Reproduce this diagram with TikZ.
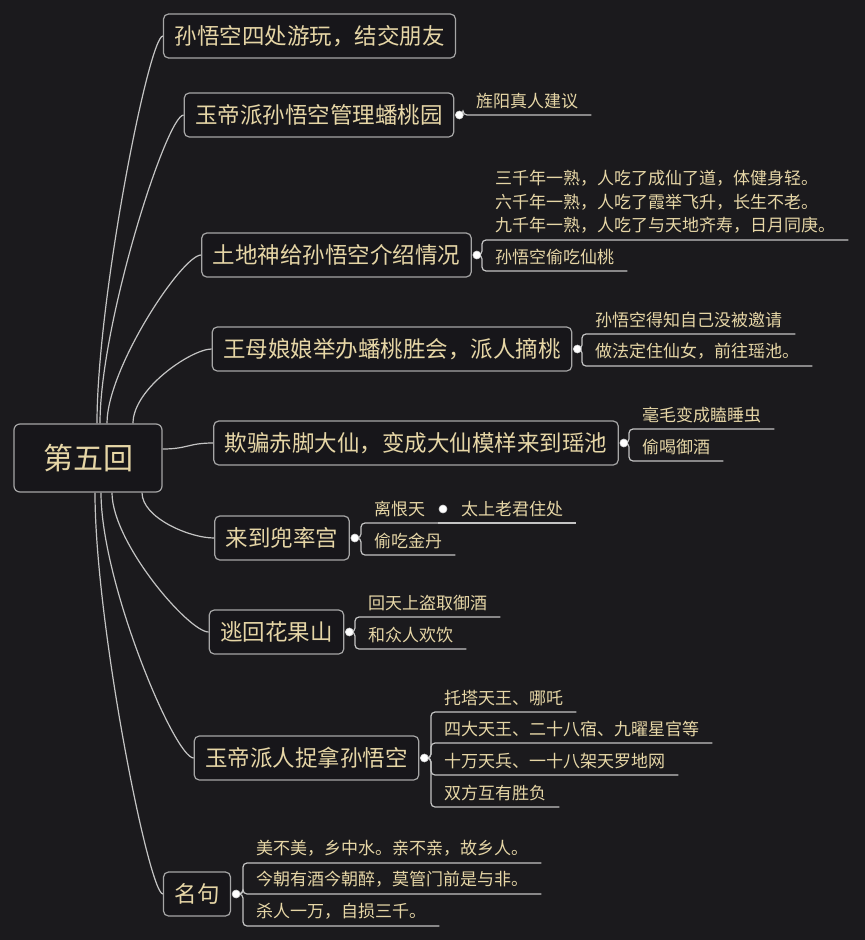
\documentclass[tikz,border=0pt]{standalone}
\usepackage{fontspec}
\newfontfamily\cjk{Noto Sans CJK SC}
\usetikzlibrary{calc,backgrounds}
\definecolor{bgdark}{HTML}{1B1A1D}
\definecolor{boxfill}{HTML}{17161A}
\definecolor{boxline}{HTML}{A6A6A6}
\definecolor{linkgray}{HTML}{C4C4C4}
\definecolor{cream}{HTML}{E6D6A6}

\begin{document}
\begin{tikzpicture}[x=1pt, y=1pt,
    root/.style={draw=boxline, fill=boxfill, line width=1.2pt, rounded corners=6pt, minimum width=148pt, minimum height=68pt, text=cream, font=\cjk\fontsize{30}{36}\selectfont},
    topic/.style={draw=boxline, fill=boxfill, line width=1.2pt, rounded corners=5pt, minimum height=44pt, inner xsep=11pt, text=cream, font=\cjk\fontsize{22.5}{27}\selectfont},
    sub/.style={anchor=south west, inner xsep=13pt, inner ysep=6pt, text=cream, align=left, font=\cjk\fontsize{17}{23.5}\selectfont},
    link/.style={draw=linkgray, line width=1.2pt},
    uline/.style={draw=linkgray, line width=1.2pt, rounded corners=4pt},
    knob/.style={circle, fill=white, draw=linkgray!70, line width=0.6pt, inner sep=0pt, minimum size=8pt}
]
\begin{scope}[on background layer]
\fill[bgdark] (0,0) rectangle (865,-940);
\end{scope}
\useasboundingbox (0,0) rectangle (865,-940);

% centre and main topics
\node[root] (root) at (88,-458) {第五回};
\node[topic] (b1) at (309.5,-36) {孙悟空四处游玩，结交朋友};
\node[topic] (b2) at (319,-115) {玉帝派孙悟空管理蟠桃园};
\node[topic] (b3) at (336.5,-255) {土地神给孙悟空介绍情况};
\node[topic] (b4) at (392,-349) {王母娘娘举办蟠桃胜会，派人摘桃};
\node[topic] (b5) at (416,-443) {欺骗赤脚大仙，变成大仙模样来到瑶池};
\node[topic] (b6) at (282,-538) {来到兜率宫};
\node[topic] (b7) at (276.5,-632) {逃回花果山};
\node[topic] (b8) at (306.5,-758) {玉帝派人捉拿孙悟空};
\node[topic] (b9) at (197,-894) {名句};

% knobs
\foreach \b in {2,...,9}
    \node[knob] (d\b) at ($(b\b.east)+(5,0)$) {};

% sub topics
\node[sub] (c21) at (463,-115) {旌阳真人建议};
\node[sub] (c31) at (482,-240) {三千年一熟，人吃了成仙了道，体健身轻。\\六千年一熟，人吃了霞举飞升，长生不老。\\九千年一熟，人吃了与天地齐寿，日月同庚。};
\node[sub] (c32) at (482,-271) {孙悟空偷吃仙桃};
\node[sub] (c41) at (582,-334) {孙悟空得知自己没被邀请};
\node[sub] (c42) at (582,-366) {做法定住仙女，前往瑶池。};
\node[sub] (c51) at (629,-429) {毫毛变成瞌睡虫};
\node[sub] (c52) at (629,-461) {偷喝御酒};
\node[sub] (c61) at (361,-523) {离恨天};
\node[knob] (m61) at (443,-509) {};
\node[sub] (c62) at (448,-523) {太上老君住处};
\node[sub] (c63) at (361,-555) {偷吃金丹};
\node[sub] (c71) at (355,-617) {回天上盗取御酒};
\node[sub] (c72) at (355,-649) {和众人欢饮};
\node[sub] (c81) at (431,-712) {托塔天王、哪吒};
\node[sub] (c82) at (431,-743) {四大天王、二十八宿、九曜星官等};
\node[sub] (c83) at (431,-775) {十万天兵、一十八架天罗地网};
\node[sub] (c84) at (431,-807) {双方互有胜负};
\node[sub] (c91) at (243,-863) {美不美，乡中水。亲不亲，故乡人。};
\node[sub] (c92) at (243,-894) {今朝有酒今朝醉，莫管门前是与非。};
\node[sub] (c93) at (243,-926) {杀人一万，自损三千。};

\begin{scope}[on background layer]
% curves from the centre
\draw[link] ([xshift=9pt]root.north) .. controls +(0,124) and +(-14,0) .. (b1.west);
\draw[link] ([xshift=12pt]root.north) .. controls +(0,100) and +(-17,0) .. (b2.west);
\draw[link] ([xshift=19pt]root.north) .. controls +(0,55) and +(-19,0) .. (b3.west);
\draw[link] ([xshift=45pt]root.north) .. controls +(0,35) and +(-20,0) .. (b4.west);
\draw[link] ([yshift=9pt]root.east) .. controls +(25,0) and +(-25,0) .. (b5.west);
\draw[link] ([xshift=54pt]root.south) .. controls +(0,-25) and +(-25,0) .. (b6.west);
\draw[link] ([xshift=24pt]root.south) .. controls +(0,-50) and +(-20,0) .. (b7.west);
\draw[link] ([xshift=13pt]root.south) .. controls +(0,-90) and +(-19,0) .. (b8.west);
\draw[link] ([xshift=7pt]root.south) .. controls +(0,-130) and +(-14,0) .. (b9.west);

% brackets and underlines
\foreach \d/\c in {d2/c21, d3/c31, d3/c32, d4/c41, d4/c42, d5/c51, d5/c52,
                   d6/c61, d6/c63, d7/c71, d7/c72, d8/c81, d8/c82, d8/c83, d8/c84,
                   d9/c91, d9/c92, d9/c93}
    \draw[uline] (\d.center) -| (\c.south west) -- (\c.south east);
\draw[uline] (c61.south east) -- (c62.south east);
\end{scope}
\end{tikzpicture}
\end{document}
